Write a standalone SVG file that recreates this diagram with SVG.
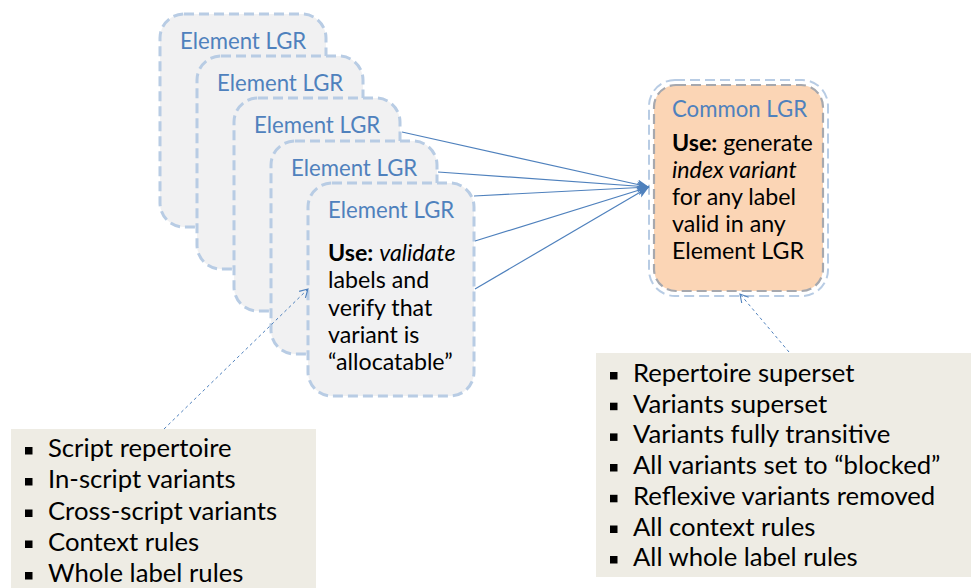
<svg xmlns="http://www.w3.org/2000/svg" width="971" height="588" viewBox="0 0 971 588">
<style>
  text { font-family: Lato, "Open Sans", "Liberation Sans", sans-serif; font-size: 23.2px; fill: #000; }
  .title { fill: #4F81BD; font-size: 22.2px; }
  .li { font-size: 25.7px; }
  .b { font-weight: bold; }
  .i { font-style: italic; }
  .elem { fill: #F1F1F2; stroke: #B8CCE4; stroke-width: 3; stroke-dasharray: 10 5; }
  .list { fill: #EEECE4; }
  .bul { fill: #000; }
  .conn { stroke: #4F81BD; stroke-width: 1.2; fill: none; }
  .dconn { stroke: #4F81BD; stroke-width: 1; fill: none; stroke-dasharray: 3 3; }
</style>
<defs>
  <marker id="ah" markerUnits="userSpaceOnUse" markerWidth="14" markerHeight="12" refX="12" refY="5" orient="auto">
    <path d="M0,0 L12,5 L0,10 L3,5 z" fill="#4F81BD"/>
  </marker>
  <marker id="ao" markerUnits="userSpaceOnUse" markerWidth="12" markerHeight="12" refX="9" refY="5" orient="auto">
    <path d="M1,0.5 L9,5 L1,9.5" fill="none" stroke="#4F81BD" stroke-width="1.1"/>
  </marker>
</defs>

<g id="element-lgr-1">
  <rect class="elem" x="160" y="14" width="166" height="213" rx="24"/>
  <text class="title" x="180" y="49">Element LGR</text>
</g>
<g id="element-lgr-2">
  <rect class="elem" x="197" y="56" width="166" height="213" rx="24"/>
  <text class="title" x="217" y="91">Element LGR</text>
</g>
<g id="element-lgr-3">
  <rect class="elem" x="234" y="98" width="166" height="213" rx="24"/>
  <text class="title" x="254" y="133">Element LGR</text>
</g>
<g id="element-lgr-4">
  <rect class="elem" x="271" y="141" width="166" height="213" rx="24"/>
  <text class="title" x="291" y="176">Element LGR</text>
</g>
<g id="element-lgr-5">
  <rect class="elem" x="308" y="183" width="166" height="213" rx="24"/>
  <text class="title" x="328" y="218">Element LGR</text>
  <text x="328" y="261"><tspan class="b">Use:</tspan> <tspan class="i">validate</tspan></text>
  <text x="328" y="288">labels and</text>
  <text x="328" y="316">verify that</text>
  <text x="328" y="343">variant is</text>
  <text x="328" y="370">“allocatable”</text>
</g>

<g id="common-lgr">
  <rect x="649" y="80" width="179" height="216" rx="26" fill="none" stroke="#B8CCE4" stroke-width="2" stroke-dasharray="10 5"/>
  <rect x="654" y="85" width="169" height="206" rx="22" fill="#FBD5B5" stroke="#A6A8AE" stroke-width="2.2" stroke-dasharray="10 5"/>
  <text class="title" x="672" y="117">Common LGR</text>
  <text x="672" y="151"><tspan class="b">Use:</tspan> generate</text>
  <text x="672" y="178" class="i">index variant</text>
  <text x="672" y="205">for any label</text>
  <text x="672" y="232">valid in any</text>
  <text x="672" y="259">Element LGR</text>
</g>

<g id="element-properties">
  <rect class="list" x="11" y="429" width="305" height="170"/>
  <rect class="bul" x="25" y="447" width="7.5" height="7.5"/>
  <text class="li" x="48" y="457">Script repertoire</text>
  <rect class="bul" x="25" y="478" width="7.5" height="7.5"/>
  <text class="li" x="48" y="488">In-script variants</text>
  <rect class="bul" x="25" y="509.5" width="7.5" height="7.5"/>
  <text class="li" x="48" y="519.5">Cross-script variants</text>
  <rect class="bul" x="25" y="540.5" width="7.5" height="7.5"/>
  <text class="li" x="48" y="550.5">Context rules</text>
  <rect class="bul" x="25" y="572" width="7.5" height="7.5"/>
  <text class="li" x="48" y="582">Whole label rules</text>
</g>

<g id="common-properties">
  <rect class="list" x="596" y="353" width="380" height="224"/>
  <rect class="bul" x="610" y="372" width="7.5" height="7.5"/>
  <text class="li" x="633" y="382">Repertoire superset</text>
  <rect class="bul" x="610" y="402.7" width="7.5" height="7.5"/>
  <text class="li" x="633" y="412.7">Variants superset</text>
  <rect class="bul" x="610" y="433.4" width="7.5" height="7.5"/>
  <text class="li" x="633" y="443.4">Variants fully transitive</text>
  <rect class="bul" x="610" y="464" width="7.5" height="7.5"/>
  <text class="li" x="633" y="474">All variants set to “blocked”</text>
  <rect class="bul" x="610" y="494.8" width="7.5" height="7.5"/>
  <text class="li" x="633" y="504.8">Reflexive variants removed</text>
  <rect class="bul" x="610" y="525.5" width="7.5" height="7.5"/>
  <text class="li" x="633" y="535.5">All context rules</text>
  <rect class="bul" x="610" y="556" width="7.5" height="7.5"/>
  <text class="li" x="633" y="566">All whole label rules</text>
</g>

<g id="connectors">
  <line class="conn" x1="402" y1="132" x2="649" y2="187" marker-end="url(#ah)"/>
  <line class="conn" x1="438" y1="172" x2="649" y2="187" marker-end="url(#ah)"/>
  <line class="conn" x1="474" y1="196" x2="649" y2="187" marker-end="url(#ah)"/>
  <line class="conn" x1="475" y1="241" x2="649" y2="187" marker-end="url(#ah)"/>
  <line class="conn" x1="475" y1="289" x2="649" y2="187" marker-end="url(#ah)"/>
  <line class="dconn" x1="164" y1="429" x2="308" y2="289" marker-end="url(#ao)"/>
  <line class="dconn" x1="789" y1="352" x2="740" y2="294" marker-end="url(#ao)"/>
</g>
</svg>
